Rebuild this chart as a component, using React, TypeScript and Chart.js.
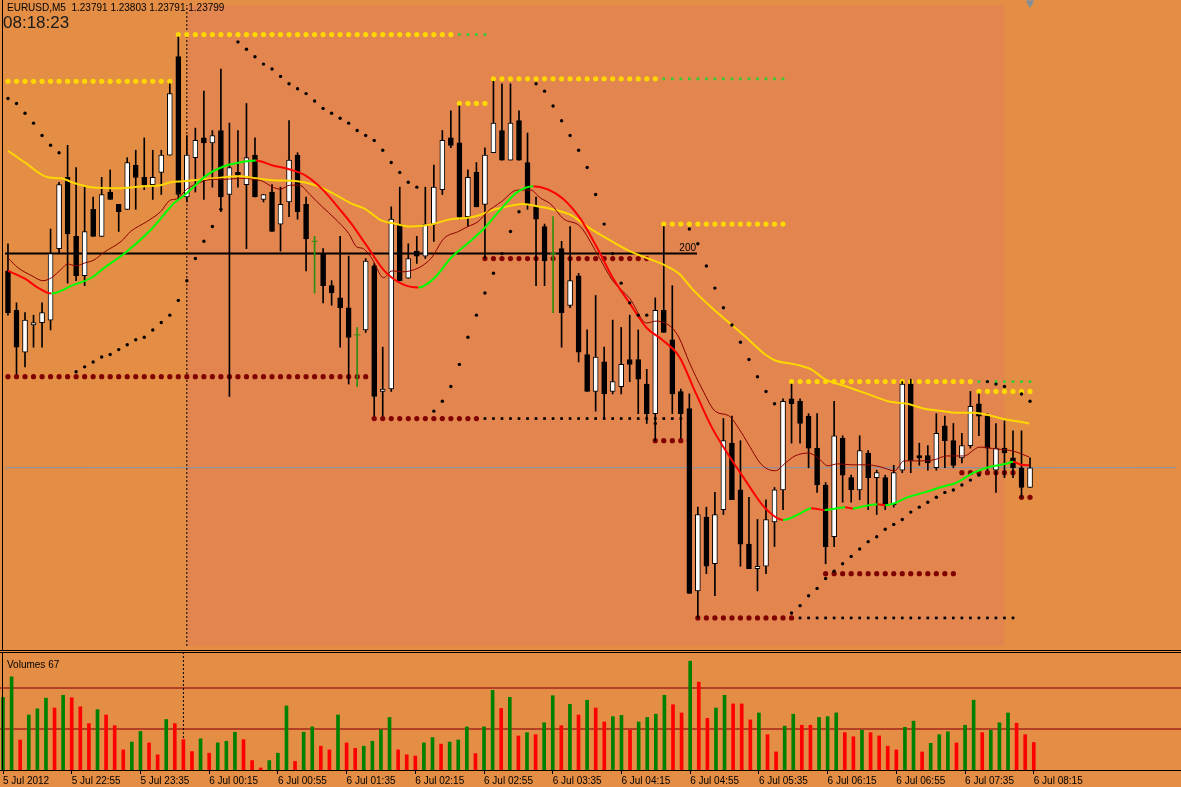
import React, { useEffect, useRef } from 'react';
import { Chart, registerables } from 'chart.js';

Chart.register(...registerables);

// ---------------- data ----------------
const SYMBOL = 'EURUSD,M5';
const CLOCK = '08:18:23';
const TICK_BARS = [0, 8, 16, 24, 32, 40, 48, 56, 64, 72, 80, 88, 96, 104, 112, 120];
const TICK_LABELS = ['5 Jul 2012', '5 Jul 22:55', '5 Jul 23:35', '6 Jul 00:15', '6 Jul 00:55', '6 Jul 01:35', '6 Jul 02:15', '6 Jul 02:55', '6 Jul 03:35', '6 Jul 04:15', '6 Jul 04:55', '6 Jul 05:35', '6 Jul 06:15', '6 Jul 06:55', '6 Jul 07:35', '6 Jul 08:15'];

const OPEN = [
  1.23879, 1.23863, 1.23846, 1.23857, 1.23858, 1.23859, 1.23888, 1.23917, 1.23893, 1.23877,
  1.23904, 1.23893, 1.23911, 1.23906, 1.23904, 1.23922, 1.23917, 1.23914, 1.23919, 1.23926,
  1.23966, 1.23909, 1.23925, 1.23933, 1.23931, 1.23936, 1.23910, 1.23919, 1.23914, 1.23926,
  1.23908, 1.23911, 1.23898, 1.23907, 1.23926, 1.23906, 1.23891, 1.23886, 1.23873, 1.23868,
  1.23864, 1.23853, 1.23855, 1.23881, 1.23830, 1.23831, 1.23898, 1.23876, 1.23887, 1.23885,
  1.23898, 1.23912, 1.23933, 1.23931, 1.23901, 1.23919, 1.23906, 1.23927, 1.23936, 1.23924,
  1.23940, 1.23923, 1.23905, 1.23897, 1.23886, 1.23888, 1.23865, 1.23877, 1.23845, 1.23830,
  1.23842, 1.23830, 1.23832, 1.23843, 1.23843, 1.23833, 1.23821, 1.23863, 1.23851, 1.23830,
  1.23823, 1.23749, 1.23779, 1.23760, 1.23782, 1.23809, 1.23790, 1.23768, 1.23758, 1.23759,
  1.23777, 1.23790, 1.23827, 1.23826, 1.23820, 1.23807, 1.23792, 1.23771, 1.23811, 1.23795,
  1.23790, 1.23805, 1.23795, 1.23795, 1.23784, 1.23798, 1.23833, 1.23804, 1.23804, 1.23799,
  1.23816, 1.23810, 1.23803, 1.23808, 1.23825, 1.23820, 1.23798, 1.23807, 1.23803, 1.23799,
  1.23791,
];
const HIGH = [
  1.23890, 1.23866, 1.23862, 1.23861, 1.23866, 1.23896, 1.23915, 1.23930, 1.23921, 1.23913,
  1.23909, 1.23917, 1.23920, 1.23906, 1.23925, 1.23928, 1.23933, 1.23928, 1.23928, 1.23955,
  1.23974, 1.23934, 1.23937, 1.23952, 1.23936, 1.23961, 1.23939, 1.23936, 1.23947, 1.23933,
  1.23910, 1.23914, 1.23913, 1.23940, 1.23927, 1.23909, 1.23893, 1.23888, 1.23875, 1.23893,
  1.23885, 1.23856, 1.23884, 1.23882, 1.23848, 1.23905, 1.23913, 1.23890, 1.23893, 1.23913,
  1.23922, 1.23936, 1.23944, 1.23946, 1.23920, 1.23923, 1.23929, 1.23956, 1.23955, 1.23955,
  1.23944, 1.23935, 1.23909, 1.23898, 1.23901, 1.23891, 1.23897, 1.23878, 1.23855, 1.23869,
  1.23848, 1.23859, 1.23856, 1.23861, 1.23855, 1.23839, 1.23868, 1.23897, 1.23873, 1.23831,
  1.23829, 1.23783, 1.23783, 1.23789, 1.23819, 1.23820, 1.23810, 1.23787, 1.23778, 1.23786,
  1.23791, 1.23827, 1.23833, 1.23827, 1.23821, 1.23821, 1.23793, 1.23826, 1.23812, 1.23796,
  1.23812, 1.23806, 1.23798, 1.23796, 1.23800, 1.23834, 1.23835, 1.23809, 1.23808, 1.23821,
  1.23820, 1.23817, 1.23813, 1.23830, 1.23829, 1.23821, 1.23817, 1.23818, 1.23814, 1.23814,
  1.23803,
];
const LOW = [
  1.23861, 1.23837, 1.23840, 1.23848, 1.23848, 1.23855, 1.23886, 1.23874, 1.23875, 1.23873,
  1.23893, 1.23893, 1.23908, 1.23895, 1.23904, 1.23904, 1.23912, 1.23908, 1.23910, 1.23926,
  1.23908, 1.23907, 1.23911, 1.23908, 1.23913, 1.23903, 1.23828, 1.23913, 1.23888, 1.23909,
  1.23907, 1.23895, 1.23887, 1.23901, 1.23900, 1.23879, 1.23870, 1.23866, 1.23865, 1.23848,
  1.23833, 1.23832, 1.23854, 1.23820, 1.23820, 1.23830, 1.23875, 1.23876, 1.23882, 1.23884,
  1.23891, 1.23910, 1.23929, 1.23900, 1.23897, 1.23905, 1.23884, 1.23927, 1.23924, 1.23924,
  1.23924, 1.23904, 1.23873, 1.23873, 1.23862, 1.23848, 1.23864, 1.23842, 1.23830, 1.23822,
  1.23819, 1.23829, 1.23829, 1.23834, 1.23821, 1.23817, 1.23810, 1.23854, 1.23821, 1.23811,
  1.23748, 1.23738, 1.23756, 1.23747, 1.23780, 1.23786, 1.23759, 1.23758, 1.23749, 1.23756,
  1.23767, 1.23782, 1.23809, 1.23809, 1.23799, 1.23789, 1.23760, 1.23767, 1.23785, 1.23785,
  1.23786, 1.23782, 1.23780, 1.23782, 1.23783, 1.23797, 1.23797, 1.23800, 1.23798, 1.23798,
  1.23799, 1.23799, 1.23801, 1.23807, 1.23812, 1.23798, 1.23789, 1.23795, 1.23795, 1.23787,
  1.23791,
];
const CLOSE = [
  1.23862, 1.23848, 1.23859, 1.23858, 1.23862, 1.23886, 1.23914, 1.23894, 1.23877, 1.23895,
  1.23893, 1.23910, 1.23908, 1.23903, 1.23923, 1.23917, 1.23914, 1.23917, 1.23926, 1.23951,
  1.23910, 1.23926, 1.23932, 1.23931, 1.23934, 1.23909, 1.23921, 1.23918, 1.23925, 1.23909,
  1.23910, 1.23895, 1.23906, 1.23924, 1.23903, 1.23892, 1.23891, 1.23873, 1.23870, 1.23864,
  1.23852, 1.23853, 1.23883, 1.23828, 1.23831, 1.23900, 1.23875, 1.23884, 1.23885, 1.23898,
  1.23913, 1.23932, 1.23930, 1.23901, 1.23917, 1.23905, 1.23926, 1.23939, 1.23924, 1.23939,
  1.23924, 1.23906, 1.23900, 1.23883, 1.23886, 1.23862, 1.23875, 1.23846, 1.23830, 1.23844,
  1.23829, 1.23834, 1.23841, 1.23841, 1.23835, 1.23821, 1.23863, 1.23854, 1.23829, 1.23821,
  1.23748, 1.23780, 1.23759, 1.23780, 1.23810, 1.23786, 1.23768, 1.23758, 1.23759, 1.23778,
  1.23790, 1.23826, 1.23825, 1.23817, 1.23807, 1.23792, 1.23767, 1.23812, 1.23796, 1.23790,
  1.23806, 1.23795, 1.23797, 1.23784, 1.23797, 1.23833, 1.23802, 1.23803, 1.23801, 1.23813,
  1.23810, 1.23800, 1.23808, 1.23824, 1.23820, 1.23807, 1.23807, 1.23805, 1.23799, 1.23791,
  1.23799,
];
const VOLUME = [
  177, 227, 73, 134, 149, 175, 151, 182, 176, 154,
  113, 147, 134, 108, 49, 68, 94, 66, 37, 123,
  113, 74, 45, 76, 41, 66, 70, 92, 74, 23,
  5, 23, 41, 156, 21, 92, 105, 58, 49, 134,
  66, 53, 58, 70, 98, 128, 49, 37, 34, 66,
  79, 63, 68, 73, 105, 40, 105, 194, 150, 177,
  83, 91, 86, 115, 181, 108, 160, 134, 170, 151,
  117, 130, 133, 97, 117, 128, 136, 182, 159, 139,
  265, 214, 126, 151, 182, 161, 161, 122, 139, 86,
  44, 107, 136, 109, 109, 128, 130, 139, 91, 81,
  97, 91, 83, 58, 49, 104, 119, 44, 65, 86,
  93, 66, 109, 170, 91, 97, 115, 139, 114, 86,
  67,
];
// Parabolic SAR (null = hidden behind other marks)
const SAR: (number | null)[] = [
  1.23949, 1.23947, 1.23943, 1.23939, 1.23934, 1.23930, 1.23927, null, 1.23838, 1.23840,
  1.23842, 1.23844, 1.23845, 1.23847, 1.23849, 1.23851, 1.23852, 1.23855, 1.23858, 1.23861,
  1.23867, 1.23875, 1.23884, 1.23891, 1.23897, 1.23904, null, 1.23972, 1.23969, 1.23966,
  1.23963, 1.23961, 1.23958, 1.23955, 1.23953, 1.23951, 1.23948, 1.23945, 1.23943, 1.23941,
  1.23939, 1.23936, 1.23934, 1.23932, 1.23928, 1.23923, 1.23919, 1.23915, 1.23913, null,
  1.23822, 1.23826, 1.23832, 1.23841, 1.23852, 1.23861, 1.23870, 1.23878, 1.23886, 1.23895,
  1.23903, null, 1.23955, 1.23952, 1.23946, 1.23940, 1.23934, 1.23928, 1.23921, 1.23910,
  1.23898, 1.23886, 1.23874, 1.23866, 1.23861, 1.23861, 1.23817, null, null, null,
  1.23896, 1.23890, 1.23881, 1.23872, 1.23864, 1.23857, 1.23850, 1.23843, 1.23836, 1.23830,
  1.23825, null, 1.23740, 1.23743, 1.23747, 1.23750, 1.23754, 1.23757, 1.23760, 1.23763,
  1.23766, 1.23769, 1.23771, 1.23774, 1.23776, 1.23778, 1.23781, 1.23783, 1.23785, 1.23787,
  1.23789, 1.23790, 1.23792, 1.23794, 1.23796, 1.23834, 1.23833, 1.23832, null, 1.23829,
  1.23826,
];
// moving averages: [bar, price]
const MA_SLOW = [
  [0, 1.239278], [2, 1.23923], [4.7, 1.23917], [6.3, 1.239166], [7.5, 1.23915], [9.8, 1.23913],
  [13.3, 1.239126], [16, 1.239134], [17.9, 1.239138], [19.1, 1.23915], [20.6, 1.239154], [21.8, 1.239158],
  [24.1, 1.239166], [27.2, 1.239174], [29.1, 1.239166], [31.1, 1.239158], [34, 1.239154], [36.1, 1.239138],
  [38.1, 1.239106], [40.4, 1.239062], [41.9, 1.239042], [43.9, 1.238994], [45.4, 1.238982], [47.2, 1.23897],
  [49.7, 1.238978], [51.7, 1.238998], [54, 1.239006], [55.5, 1.239018], [57, 1.239038], [59, 1.239054],
  [60.5, 1.239062], [62.5, 1.23905], [63.7, 1.239042], [66, 1.239018], [68, 1.23897], [70.3, 1.238922],
  [73, 1.23887], [75, 1.238842], [76.8, 1.238818], [78.8, 1.238778], [80.3, 1.238718], [82.7, 1.238638],
  [85, 1.23857], [86.6, 1.238522], [88.9, 1.23845], [90.1, 1.238426], [92.4, 1.23841], [94.3, 1.23839],
  [95.9, 1.23835], [98.3, 1.238322], [100.9, 1.23829], [103.6, 1.238258], [105.6, 1.23825], [107.6, 1.23823],
  [109.4, 1.238222], [111.4, 1.238214], [113.4, 1.238214], [115.3, 1.238202], [117.2, 1.238186],
  [118.7, 1.238178], [119.9, 1.23817],
];
const MA_MID = [
  [0, 1.23879], [2, 1.238758], [3.5, 1.238722], [5.1, 1.238698], [7.5, 1.23873], [9.8, 1.238762],
  [11.3, 1.238802], [14, 1.23887], [16.8, 1.238958], [18.6, 1.23903], [19.4, 1.239062], [20.6, 1.239094],
  [21.4, 1.239118], [23.3, 1.239178], [25.3, 1.239214], [27.2, 1.23923], [29.1, 1.239238], [31.1, 1.239218],
  [33.1, 1.239202], [34.9, 1.239178], [36.9, 1.239122], [38.9, 1.239042], [40.4, 1.238978], [41.6, 1.238918],
  [42.4, 1.238878], [44.2, 1.23879], [46.2, 1.238738], [48.2, 1.238722], [50.1, 1.238762], [52, 1.238842],
  [54, 1.238902], [55.9, 1.238962], [57.9, 1.239042], [59.8, 1.23911], [61.7, 1.239134], [63.3, 1.239122],
  [65.2, 1.239082], [67.2, 1.239002], [69.2, 1.238882], [71, 1.238762], [73, 1.238658], [75, 1.238558],
  [76.8, 1.23851], [78.8, 1.238442], [80.8, 1.23829], [82.7, 1.23815], [84.6, 1.238042], [86.6, 1.237938],
  [88.5, 1.237842], [90.1, 1.23779], [91, 1.237778], [93.1, 1.237806], [94.3, 1.237826], [95.9, 1.237818],
  [97.4, 1.237826], [98.3, 1.23783], [99.2, 1.237824], [100, 1.23783], [102.1, 1.237842], [103, 1.237838],
  [104.1, 1.237846], [105.6, 1.23787], [107.6, 1.23789], [109.4, 1.23791], [111.4, 1.23793], [113.4, 1.23797],
  [115.3, 1.237994], [117.2, 1.238006], [118, 1.238014], [119, 1.238002], [119.9, 1.238],
];
const MA_FAST = [
  [0, 1.238842], [1.2, 1.238802], [2.8, 1.23877], [4.1, 1.23875], [5.1, 1.238762], [6.3, 1.238798],
  [7, 1.238818], [8, 1.23881], [9, 1.238822], [10.1, 1.238834], [11.3, 1.238866], [13.3, 1.23891],
  [14.4, 1.23895], [16.3, 1.23899], [17.9, 1.23903], [19.1, 1.239078], [19.8, 1.239082], [21, 1.239122],
  [22.6, 1.23915], [24.1, 1.239162], [25.6, 1.239162], [27.2, 1.239166], [28.8, 1.239162], [29.9, 1.239154],
  [31.1, 1.23913], [32, 1.239122], [33.1, 1.239138], [34.2, 1.239138], [35.4, 1.239102], [36.9, 1.23905],
  [38.4, 1.239002], [40, 1.238942], [41, 1.238886], [41.6, 1.238882], [42.7, 1.238842], [44.1, 1.238762],
  [45.1, 1.23879], [46.2, 1.238786], [48.2, 1.238802], [49.7, 1.238842], [51.2, 1.238922], [52.9, 1.23895],
  [54, 1.23897], [55.2, 1.23899], [56.3, 1.23903], [57.9, 1.23907], [59.8, 1.239118], [61.4, 1.239118],
  [62.5, 1.239086], [63.7, 1.239062], [65.2, 1.239002], [67.2, 1.23897], [69.2, 1.238858], [71, 1.23875],
  [73, 1.238678], [75, 1.238578], [76.1, 1.238586], [76.8, 1.238582], [78, 1.238558], [78.8, 1.238518],
  [80, 1.238418], [81.5, 1.23831], [83.1, 1.238218], [84.6, 1.238202], [85.8, 1.23815], [87, 1.238082],
  [88.5, 1.238002], [90.1, 1.237978], [91.3, 1.23801], [92.4, 1.238038], [94, 1.23805], [95.1, 1.23803],
  [96.3, 1.237998], [97.4, 1.238006], [99, 1.238002], [100.9, 1.238002], [102.4, 1.237994], [104.1, 1.237978],
  [105.2, 1.238018], [106.8, 1.238018], [108.7, 1.238022], [110.2, 1.238038], [112.2, 1.238038],
  [114.1, 1.238074], [116.1, 1.238066], [118, 1.238058], [119.9, 1.238034],
];
// fractal levels: [price, fromBar, toBar]
const RESIST_LEVELS = [
  [1.23956, 0, 19], [1.23975, 20, 52], [1.23947, 53, 56], [1.23957, 57, 76],
  [1.23898, 77, 91], [1.23834, 92, 113], [1.23830, 114, 120],
];
const RESIST_CONT = [[1.23975, 53, 56], [1.23957, 77, 91], [1.23834, 114, 120]];
const SUPPORT_LEVELS = [
  [1.23836, 0, 42], [1.23819, 43, 55], [1.23884, 56, 75], [1.23810, 76, 80],
  [1.23738, 81, 92], [1.23756, 96, 111], [1.23797, 112, 118], [1.23787, 119, 120],
];
const SUPPORT_CONT = [[1.23819, 56, 79], [1.23738, 93, 118]];
const HLINE_PRICE = 1.23886;
const HLINE_END = 80.9;
const HLINE_LABEL = '200';
const BID = 1.23799;
const SEPARATOR_BAR = 21;
const SESSION = [21, 117];
const VOL_LEVELS = [100, 200];

// ---------------- layout / style ----------------
const W = 1181;
const MAIN_H = 651;
const VOL_H = 136;
const X_MIN = -0.35;
const X_MAX = 137.14;
const PRICE_MIN = 1.237266;
const PRICE_MAX = 1.23987;
const VOL_MAX = 285;
const FONT = '"Liberation Sans", Arial, sans-serif';
const COL = {
  bg: '#E48E45',
  shade: '#E3854F',
  yellow: '#FFD700',
  support: '#800000',
  contGreen: '#32CD32',
  bid: '#7F97AC',
  maRed: '#FF0000',
  maGreen: '#00FF00',
  maFast: '#8B0000',
  doji: '#2F8F0F',
  volGreen: '#008000',
  volRed: '#FF0000',
  volLevel: '#A3261A',
};

function levelPoints(levels: number[][]) {
  const pts: { x: number; y: number }[] = [];
  levels.forEach(([price, from, to]) => {
    for (let i = from; i <= to; i++) pts.push({ x: i, y: price });
  });
  return pts;
}

export default function App() {
  const mainRef = useRef<HTMLCanvasElement>(null);
  const volRef = useRef<HTMLCanvasElement>(null);

  useEffect(() => {
    document.body.style.margin = '0';
    document.body.style.background = COL.bg;
    const last = OPEN.length - 1;
    const bars = OPEN.map((_, i) => i);
    const isDoji = (i: number) => OPEN[i] === CLOSE[i];
    const bodyIdx = bars.filter((i) => !isDoji(i));

    const bgPlugin = {
      id: 'bg',
      beforeDraw(chart: any) {
        const { ctx, width, height } = chart;
        ctx.save();
        ctx.fillStyle = COL.bg;
        ctx.fillRect(0, 0, width, height);
        ctx.restore();
      },
    };
    const sessionPlugin = {
      id: 'session',
      beforeDatasetsDraw(chart: any) {
        const { ctx, chartArea, scales } = chart;
        const x0 = scales.x.getPixelForValue(SESSION[0]);
        const x1 = scales.x.getPixelForValue(SESSION[1]);
        ctx.save();
        ctx.fillStyle = COL.shade;
        ctx.fillRect(x0, chartArea.top, x1 - x0, chartArea.bottom - chartArea.top);
        ctx.restore();
      },
    };
    const mainText = {
      id: 'mainText',
      afterDraw(chart: any) {
        const { ctx, scales } = chart;
        ctx.save();
        ctx.fillStyle = '#000';
        ctx.fillRect(0, MAIN_H - 1, W, 1);
        ctx.fillRect(2, 0, 1, MAIN_H);
        ctx.textAlign = 'left';
        ctx.textBaseline = 'alphabetic';
        ctx.font = `10px ${FONT}`;
        const f = (v: number) => v.toFixed(5);
        ctx.fillText(`${SYMBOL}  ${f(OPEN[last])} ${f(HIGH[last])} ${f(LOW[last])} ${f(CLOSE[last])}`, 7, 11);
        ctx.font = `17px ${FONT}`;
        ctx.fillStyle = '#1a1a1a';
        ctx.fillText(CLOCK, 3, 28);
        ctx.fillStyle = '#000';
        ctx.font = `10px ${FONT}`;
        ctx.textAlign = 'right';
        ctx.fillText(HLINE_LABEL, scales.x.getPixelForValue(HLINE_END) - 1, scales.y.getPixelForValue(HLINE_PRICE) - 2.5);
        ctx.restore();
      },
    };

    const line = (data: any[], extra: any) => ({
      type: 'line',
      data,
      pointRadius: 0,
      pointHitRadius: 0,
      fill: false,
      ...extra,
    });
    const dots = (data: any[], extra: any) => ({
      type: 'line',
      data,
      showLine: false,
      pointBorderWidth: 0,
      pointHitRadius: 0,
      ...extra,
    });

    const mainChart = new Chart(mainRef.current as HTMLCanvasElement, {
      type: 'bar',
      data: {
        datasets: [
          line([{ x: X_MIN, y: BID }, { x: X_MAX, y: BID }], { borderColor: COL.bid, borderWidth: 1, order: 60 }),
          line([{ x: X_MIN, y: HLINE_PRICE }, { x: HLINE_END, y: HLINE_PRICE }], { borderColor: '#000', borderWidth: 2, order: 59 }),
          line([{ x: SEPARATOR_BAR, y: PRICE_MIN }, { x: SEPARATOR_BAR, y: PRICE_MAX }], { borderColor: '#000', borderWidth: 1, borderDash: [2, 2], order: 58 }),
          dots(levelPoints(SUPPORT_LEVELS), { pointRadius: 2.6, pointBackgroundColor: COL.support, order: 50 }),
          dots(levelPoints(SUPPORT_CONT), { pointStyle: 'rect', pointRadius: 1.9, pointBackgroundColor: '#000', order: 50 }),
          dots(levelPoints(RESIST_LEVELS), { pointRadius: 2.6, pointBackgroundColor: COL.yellow, order: 50 }),
          dots(levelPoints(RESIST_CONT), { pointStyle: 'rect', pointRadius: 1.9, pointBackgroundColor: COL.contGreen, order: 50 }),
          {
            type: 'bar',
            data: bars.map((i) => ({ x: i, y: [LOW[i], HIGH[i]] })),
            backgroundColor: bars.map((i) => (isDoji(i) ? COL.doji : '#000')),
            barThickness: 1,
            borderWidth: 0,
            grouped: false,
            order: 30,
          },
          {
            type: 'bar',
            data: bodyIdx.map((i) => ({ x: i, y: [OPEN[i], CLOSE[i]] })),
            backgroundColor: bodyIdx.map((i) => (CLOSE[i] > OPEN[i] ? '#FFFFFF' : '#000000')),
            borderColor: '#000',
            borderWidth: 1,
            borderSkipped: false,
            barThickness: 5,
            grouped: false,
            order: 29,
          },
          dots(bars.filter(isDoji).map((i) => ({ x: i, y: OPEN[i] })), {
            pointStyle: 'line', pointRadius: 3, pointBorderWidth: 1, pointBorderColor: COL.doji, order: 28,
          }),
          line(MA_SLOW.map(([x, y]) => ({ x, y })), { borderColor: COL.yellow, borderWidth: 2, cubicInterpolationMode: 'monotone', order: 20 }),
          line(MA_FAST.map(([x, y]) => ({ x, y })), { borderColor: COL.maFast, borderWidth: 1, cubicInterpolationMode: 'monotone', order: 19 }),
          line(MA_MID.map(([x, y]) => ({ x, y })), {
            borderColor: COL.maRed,
            borderWidth: 2,
            cubicInterpolationMode: 'monotone',
            segment: {
              borderColor: (c: any) => (c.p1.parsed.y >= c.p0.parsed.y ? COL.maGreen : COL.maRed),
            },
            order: 18,
          }),
          dots(
            SAR.map((v, i) => (v == null ? null : { x: i, y: v })).filter((p) => p !== null) as any[],
            { pointRadius: 1.7, pointBackgroundColor: '#000', order: 10 },
          ),
          dots([{ x: 120, y: PRICE_MAX + 0.000008 }], {
            pointStyle: 'triangle', rotation: 180, pointRadius: 5, pointBackgroundColor: '#7E8FA0', clip: false, order: 5,
          }),
        ] as any,
      },
      options: {
        animation: false,
        responsive: false,
        events: [],
        layout: { padding: 0 },
        plugins: { legend: { display: false }, tooltip: { enabled: false } },
        scales: {
          x: { type: 'linear', display: false, min: X_MIN, max: X_MAX, offset: false, grid: { offset: false } },
          y: { type: 'linear', display: false, min: PRICE_MIN, max: PRICE_MAX },
        },
      } as any,
      plugins: [bgPlugin, sessionPlugin, mainText],
    });

    const volText = {
      id: 'volText',
      afterDraw(chart: any) {
        const { ctx, chartArea } = chart;
        ctx.save();
        ctx.fillStyle = '#000';
        ctx.fillRect(0, 1, W, 1);
        ctx.fillRect(2, 1, 1, chartArea.bottom - 1);
        ctx.font = `10px ${FONT}`;
        ctx.textAlign = 'left';
        ctx.textBaseline = 'alphabetic';
        ctx.fillText(`Volumes ${VOLUME[last]}`, 7, 17);
        ctx.restore();
      },
    };

    const volChart = new Chart(volRef.current as HTMLCanvasElement, {
      type: 'bar',
      data: {
        datasets: [
          ...VOL_LEVELS.map((lv) =>
            line([{ x: X_MIN, y: lv }, { x: X_MAX, y: lv }], { borderColor: COL.volLevel, borderWidth: 1.5, order: 20 }),
          ),
          line([{ x: SEPARATOR_BAR, y: 0 }, { x: SEPARATOR_BAR, y: VOL_MAX }], { borderColor: '#000', borderWidth: 1, borderDash: [2, 2], order: 19 }),
          {
            type: 'bar',
            data: VOLUME.map((v, i) => ({ x: i, y: v })),
            backgroundColor: VOLUME.map((v, i) => (i > 0 && v <= VOLUME[i - 1] ? COL.volRed : COL.volGreen)),
            barThickness: 3,
            borderWidth: 0,
            grouped: false,
            order: 10,
          },
        ] as any,
      },
      options: {
        animation: false,
        responsive: false,
        events: [],
        layout: { padding: { top: 2, left: 0, right: 0, bottom: 0 } },
        plugins: { legend: { display: false }, tooltip: { enabled: false } },
        scales: {
          x: {
            type: 'linear',
            min: X_MIN,
            max: X_MAX,
            offset: false,
            afterBuildTicks: (s: any) => {
              s.ticks = TICK_BARS.map((v) => ({ value: v }));
            },
            afterFit: (s: any) => {
              s.height = 17;
            },
            ticks: {
              autoSkip: false,
              maxRotation: 0,
              minRotation: 0,
              align: 'start',
              padding: 1,
              color: '#000',
              font: { family: FONT, size: 10 },
              callback: (_v: any, idx: number) => TICK_LABELS[idx] ?? '',
            },
            grid: { display: true, drawOnChartArea: false, drawTicks: true, tickLength: 4, color: '#000', offset: false },
            border: { display: true, color: '#000', width: 1 },
          },
          y: { type: 'linear', display: false, min: 0, max: VOL_MAX },
        },
      } as any,
      plugins: [bgPlugin, volText],
    });

    return () => {
      mainChart.destroy();
      volChart.destroy();
    };
  }, []);

  return (
    <div style={{ position: 'relative', width: W, height: 787, background: COL.bg, overflow: 'hidden' }}>
      <canvas ref={mainRef} width={W} height={MAIN_H} style={{ position: 'absolute', left: 0, top: 0, display: 'block' }} />
      <canvas ref={volRef} width={W} height={VOL_H} style={{ position: 'absolute', left: 0, top: MAIN_H, display: 'block' }} />
    </div>
  );
}
